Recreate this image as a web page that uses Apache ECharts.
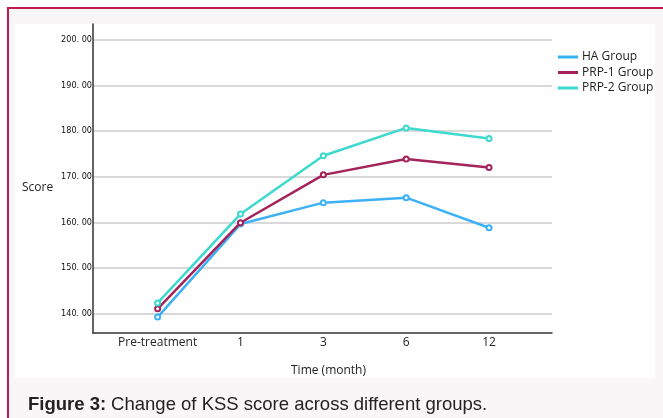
<!DOCTYPE html>
<html>
<head>
<meta charset="utf-8">
<script src="https://cdn.jsdelivr.net/npm/echarts@6/dist/echarts.min.js"></script>
<style>
html,body{margin:0;padding:0;background:#ffffff;}
#chart{width:663px;height:418px;}
</style>
</head>
<body>
<div id="chart"></div>
<script>
var categories = ['Pre-treatment', '1', '3', '6', '12'];
var haGroup = [139.2, 159.6, 164.3, 165.4, 158.8];
var prp1Group = [141.0, 159.9, 170.4, 173.9, 172.0];
var prp2Group = [142.3, 161.8, 174.6, 180.7, 178.4];
var yTicks = [140, 150, 160, 170, 180, 190, 200];
var seriesNames = ['HA Group', 'PRP-1 Group', 'PRP-2 Group'];
var colors = ['#3db1f5', '#a3235a', '#3dd9cf'];

function pairs(arr) { return arr.map(function (v, i) { return [i, v]; }); }
var seriesData = [haGroup, prp1Group, prp2Group];

var chart = echarts.init(document.getElementById('chart'), null, {renderer: 'canvas'});
chart.setOption({
  animation: false,
  backgroundColor: '#ffffff',
  graphic: [
    {type: 'rect', silent: true, z: -10, shape: {x: 7, y: 7, width: 660, height: 415},
     style: {fill: '#f9f6f7', stroke: null}},
    {type: 'rect', silent: true, z: -9, shape: {x: 7, y: 7, width: 660, height: 2}, style: {fill: '#c21a4d'}},
    {type: 'rect', silent: true, z: -9, shape: {x: 7, y: 7, width: 2, height: 415}, style: {fill: '#c21a4d'}},
    {type: 'rect', silent: true, z: -8, shape: {x: 15, y: 24, width: 640, height: 354}, style: {fill: '#ffffff'}},
    {type: 'text', silent: true, left: 22, top: 182,
     style: {text: 'Score', fill: '#222', font: '12px "Open Sans", sans-serif'}}
  ],
  title: {
    left: 23, top: 390,
    text: '{b|Figure 3:} {n|Change of KSS score across different groups.}',
    textStyle: {
      fontWeight: 'normal',
      rich: {
        b: {fontFamily: 'Liberation Sans, Arial', fontWeight: 'bold', fontSize: 18.5, color: '#222'},
        n: {fontFamily: 'Liberation Sans, Arial', fontWeight: 'normal', fontSize: 18.5, color: '#222'}
      }
    }
  },
  legend: {
    orient: 'vertical', left: 553, top: 46, itemGap: 3.5,
    itemWidth: 20, itemHeight: 3, icon: 'rect',
    textStyle: {fontFamily: '"Open Sans", sans-serif', fontSize: 12, color: '#222', padding: [0, 0, 0, -1]},
    data: seriesNames
  },
  grid: {left: 93, right: 111, top: 24, bottom: 85, containLabel: false},
  xAxis: {
    type: 'value', min: -0.78, max: 4.76,
    axisLine: {show: true, onZero: false, lineStyle: {color: '#333', width: 1.5}},
    axisTick: {show: false, customValues: [0, 1, 2, 3, 4]},
    splitLine: {show: false},
    axisLabel: {
      customValues: [0, 1, 2, 3, 4], margin: 4,
      fontFamily: '"Open Sans", sans-serif', fontSize: 12, color: '#222',
      formatter: function (v) { return categories[Math.round(v)]; }
    },
    name: 'Time (month)', nameLocation: 'middle', nameGap: 32,
    nameTextStyle: {fontFamily: '"Open Sans", sans-serif', fontSize: 12, color: '#222', padding: [0, 0, 0, 12]}
  },
  yAxis: {
    type: 'value', min: 135.7, max: 203.5,
    axisLine: {show: true, onZero: false, lineStyle: {color: '#333', width: 1.5}},
    axisTick: {show: false, customValues: yTicks},
    splitLine: {show: true, lineStyle: {color: '#cccccc', width: 1.5}},
    axisLabel: {
      customValues: yTicks, margin: 1,
      fontFamily: '"DejaVu Sans Condensed", "DejaVu Sans", sans-serif', fontSize: 9, color: '#111',
      formatter: function (v) { return v.toFixed(2).replace('.', '. '); }
    }
  },
  series: seriesData.map(function (d, i) {
    return {
      name: seriesNames[i], type: 'line', data: pairs(d),
      symbol: 'emptyCircle', symbolSize: 5,
      lineStyle: {color: colors[i], width: 2.5},
      itemStyle: {color: colors[i], borderWidth: 1.2},
      z: 3 + i
    };
  })
});
</script>
</body>
</html>
